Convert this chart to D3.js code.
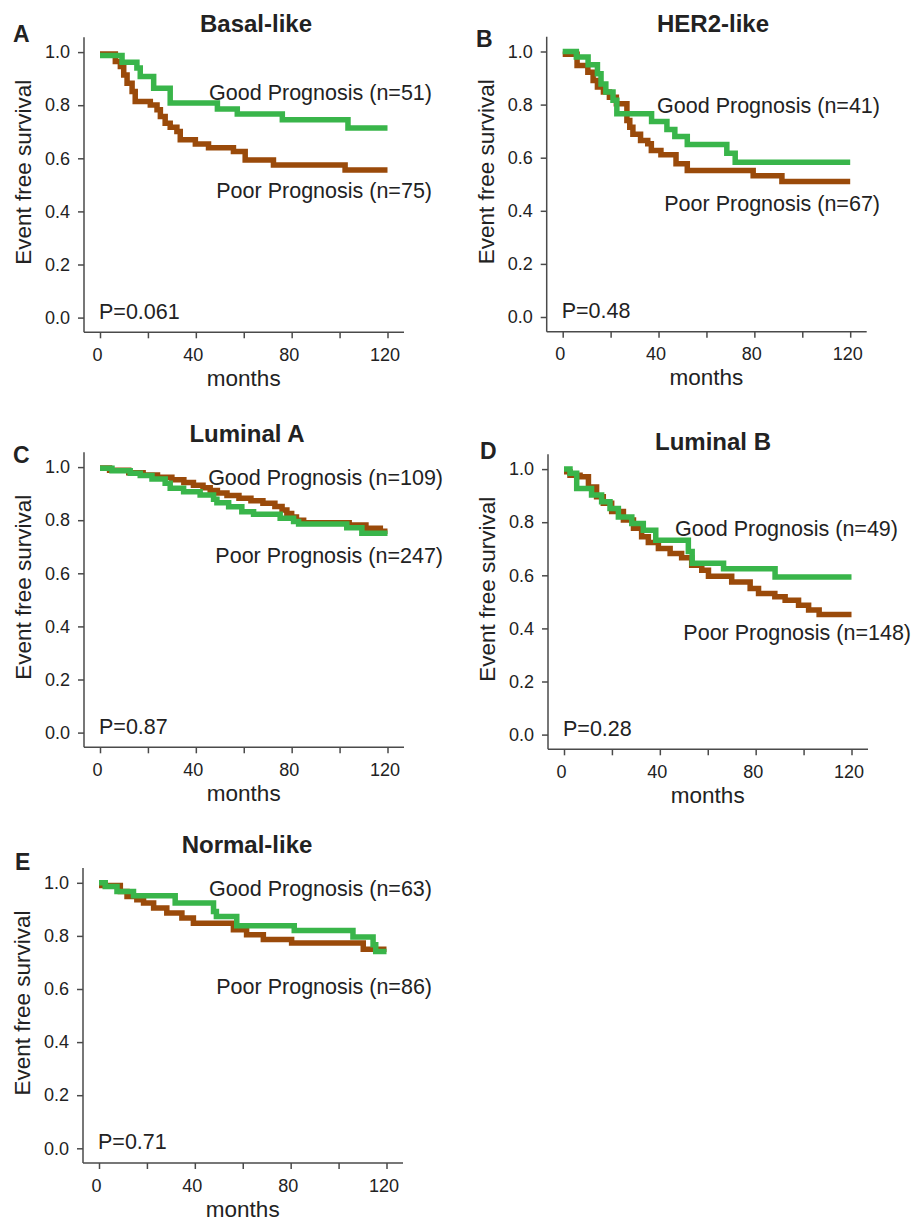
<html>
<head>
<script src="https://d3js.org/d3.v7.min.js"></script>
<style>
  body { margin: 0; background: #fff; }
  text { font-family: "Liberation Sans", Arial, sans-serif; fill: #222; }
</style>
</head>
<body>
<div id="chart"></div>
<script>
// ---- data ----
var subtypes = ["Basal-like", "HER2-like", "Luminal A", "Luminal B", "Normal-like"];
var letters = ["A", "B", "C", "D", "E"];
var pValues = ["0.061", "0.48", "0.87", "0.28", "0.71"];
var nGood = [51, 41, 109, 49, 63];
var nPoor = [75, 67, 247, 148, 86];

var xTicks = [0, 20, 40, 60, 80, 100, 120];
var xTickLabels = [0, 40, 80, 120];
var yTicks = [0, 0.2, 0.4, 0.6, 0.8, 1.0];

// [month, event free survival]
var goodBasal = [[0,0.987],[9.2,0.962],[15.4,0.94],[16.8,0.908],[22.4,0.864],[29.3,0.808],[49,0.786],[57.3,0.767],[76.1,0.745],[103.5,0.714],[120,0.714]];
var poorBasal = [[0,0.993],[6.4,0.965],[8.5,0.946],[9.9,0.914],[11.3,0.883],[13.4,0.852],[14.7,0.814],[21,0.801],[23.8,0.783],[25.2,0.757],[27.2,0.732],[29.3,0.717],[32.1,0.701],[33.5,0.67],[39.8,0.654],[45.3,0.64],[55.7,0.626],[60.6,0.594],[72.4,0.575],[102.3,0.556],[120,0.556]];

var goodHer2 = [[0,1.0],[5.7,0.979],[10.6,0.95],[14.5,0.916],[16,0.878],[18,0.847],[21,0.816],[22.6,0.766],[37.1,0.736],[43.5,0.706],[46.8,0.68],[52,0.65],[68.5,0.617],[72,0.583],[120,0.583]];
var poorHer2 = [[0,0.99],[6,0.947],[10.5,0.922],[12.7,0.891],[14.5,0.866],[17,0.847],[19.5,0.828],[22.4,0.803],[26.8,0.74],[28,0.715],[29.3,0.688],[32.5,0.665],[35.5,0.653],[37,0.627],[41,0.611],[47.3,0.577],[52,0.552],[79.5,0.532],[91.5,0.51],[120,0.51]];

var goodLumA = [[0,0.996],[5,0.986],[12.6,0.977],[16.8,0.968],[21.7,0.955],[27.2,0.939],[29.3,0.92],[34.9,0.907],[41.8,0.895],[47.4,0.879],[48.8,0.866],[53.7,0.851],[59.2,0.832],[64.1,0.822],[75.2,0.807],[80.8,0.795],[82.9,0.786],[103,0.772],[109.3,0.751],[120,0.751]];
var poorLumA = [[0,0.997],[4,0.988],[12,0.979],[18,0.97],[24,0.962],[30,0.952],[35,0.942],[39,0.932],[43,0.922],[46,0.912],[49,0.902],[53,0.893],[58,0.883],[63,0.873],[68,0.864],[73,0.852],[76,0.838],[78,0.825],[80,0.812],[82,0.8],[85,0.79],[104,0.782],[111,0.77],[117,0.758],[120,0.758]];

var goodLumB = [[0,1.0],[2.5,0.984],[5.3,0.927],[11.5,0.902],[15.7,0.877],[19.2,0.852],[22.7,0.82],[28.3,0.795],[33.1,0.77],[38.3,0.732],[51.9,0.69],[53.5,0.645],[66.6,0.625],[88.1,0.594],[120,0.594]];
var poorLumB = [[0,0.99],[2.5,0.977],[6.7,0.971],[10.2,0.933],[13.6,0.896],[16.4,0.871],[19.9,0.84],[24.8,0.808],[29,0.777],[32.4,0.745],[35.2,0.724],[39.4,0.701],[44.3,0.682],[49.1,0.666],[53.3,0.638],[57.5,0.619],[60.3,0.596],[70,0.575],[77.7,0.55],[81.2,0.531],[88,0.519],[92.3,0.506],[97.9,0.487],[102.1,0.469],[106.5,0.452],[120,0.452]];

var goodNormal = [[0,1.0],[2.6,0.986],[7.5,0.967],[14.4,0.951],[31.8,0.924],[47.8,0.892],[49,0.873],[57.5,0.838],[81.5,0.82],[106,0.796],[114.4,0.767],[115.5,0.741],[120,0.741]];
var poorNormal = [[0,0.99],[8.9,0.967],[11.7,0.948],[15.8,0.936],[18.6,0.924],[22.8,0.905],[28.3,0.886],[34.6,0.867],[39.4,0.848],[56.1,0.823],[61.6,0.804],[68.6,0.786],[80.4,0.773],[110.3,0.75],[120,0.75]];

var goodSeries = [goodBasal, goodHer2, goodLumA, goodLumB, goodNormal];
var poorSeries = [poorBasal, poorHer2, poorLumA, poorLumB, poorNormal];

// ---- layout (pixels / label anchors) ----
var layout = [
  {ax: 84,  ay: 332.3, title: [256, 32],  letter: [13, 42],  goodR: 432, poorR: 432, goodY: 0.82,  poorY: 0.45},
  {ax: 546.7, ay: 331.7, title: [713, 32], letter: [476, 47], goodR: 880, poorR: 880, goodY: 0.77,  poorY: 0.40},
  {ax: 84,  ay: 747.3, title: [247, 442], letter: [13, 463], goodR: 443, poorR: 443, goodY: 0.933, poorY: 0.638},
  {ax: 548, ay: 749.3, title: [713, 450], letter: [480, 459], goodR: 898, poorR: 911, goodY: 0.747, poorY: 0.355},
  {ax: 83,  ay: 1163,  title: [247, 853], letter: [15, 870], goodR: 432, poorR: 432, goodY: 0.951, poorY: 0.582}
];

var green = "#39b54a";
var brown = "#9a4a0a";
var axisColor = "#4a4a4a";

var svg = d3.select("#chart").append("svg")
  .attr("width", 911)
  .attr("height", 1219);

subtypes.forEach(function(name, i) {
  var L = layout[i];
  var x = d3.scaleLinear().domain([0, 120]).range([L.ax + 16, L.ax + 303.5]);
  var y = d3.scaleLinear().domain([0, 1]).range([L.ay - 14.7, L.ay - 280.2]);
  var g = svg.append("g");

  // axis lines
  g.append("line")
    .attr("x1", L.ax).attr("x2", L.ax)
    .attr("y1", L.ay - 295).attr("y2", L.ay)
    .attr("stroke", axisColor).attr("stroke-width", 1.5);
  g.append("line")
    .attr("x1", L.ax).attr("x2", L.ax + 320)
    .attr("y1", L.ay).attr("y2", L.ay)
    .attr("stroke", axisColor).attr("stroke-width", 1.5);

  // y axis ticks
  var yAxis = g.append("g")
    .attr("transform", "translate(" + L.ax + ",0)")
    .call(d3.axisLeft(y).tickValues(yTicks).tickFormat(d3.format(".1f")).tickSize(6).tickPadding(8));
  yAxis.select(".domain").remove();
  yAxis.selectAll("line").attr("stroke", axisColor).attr("stroke-width", 1.5);
  yAxis.selectAll("text").attr("font-size", 18).attr("font-family", "Liberation Sans, Arial, sans-serif").style("fill", "#222");

  // x axis ticks
  var xAxis = g.append("g")
    .attr("transform", "translate(0," + L.ay + ")")
    .call(d3.axisBottom(x).tickValues(xTicks)
      .tickFormat(function(d) { return xTickLabels.indexOf(d) >= 0 ? d : ""; })
      .tickSize(6).tickPadding(10));
  xAxis.select(".domain").remove();
  xAxis.selectAll("line").attr("stroke", axisColor).attr("stroke-width", 1.5);
  xAxis.selectAll("text").attr("font-size", 18).attr("dx", -3).attr("font-family", "Liberation Sans, Arial, sans-serif").style("fill", "#222");

  // curves
  var line = d3.line()
    .x(function(d) { return x(d[0]); })
    .y(function(d) { return y(d[1]); })
    .curve(d3.curveStepAfter);

  g.append("path")
    .datum(poorSeries[i])
    .attr("d", line)
    .attr("fill", "none")
    .attr("stroke", brown)
    .attr("stroke-width", 5.5);
  g.append("path")
    .datum(goodSeries[i])
    .attr("d", line)
    .attr("fill", "none")
    .attr("stroke", green)
    .attr("stroke-width", 5.5);

  // text
  g.append("text")
    .attr("x", L.title[0]).attr("y", L.title[1])
    .attr("text-anchor", "middle")
    .attr("font-weight", "bold")
    .attr("font-size", 24)
    .text(name);
  g.append("text")
    .attr("x", L.letter[0]).attr("y", L.letter[1])
    .attr("font-weight", "bold")
    .attr("font-size", 23)
    .text(letters[i]);
  g.append("text")
    .attr("transform", "translate(" + (L.ax - 53) + "," + (L.ay - 160) + ") rotate(-90)")
    .attr("text-anchor", "middle")
    .attr("font-size", 22.5)
    .text("Event free survival");
  g.append("text")
    .attr("x", x(60)).attr("y", L.ay + 53.5)
    .attr("text-anchor", "middle")
    .attr("font-size", 22.5)
    .text("months");
  g.append("text")
    .attr("x", x(0) - 1).attr("y", y(0) + 1)
    .attr("font-size", 21.5)
    .text("P=" + pValues[i]);
  g.append("text")
    .attr("x", L.goodR).attr("y", y(L.goodY))
    .attr("text-anchor", "end")
    .attr("font-size", 21.5)
    .text("Good Prognosis (n=" + nGood[i] + ")");
  g.append("text")
    .attr("x", L.poorR).attr("y", y(L.poorY))
    .attr("text-anchor", "end")
    .attr("font-size", 21.5)
    .text("Poor Prognosis (n=" + nPoor[i] + ")");
});
</script>
</body>
</html>
